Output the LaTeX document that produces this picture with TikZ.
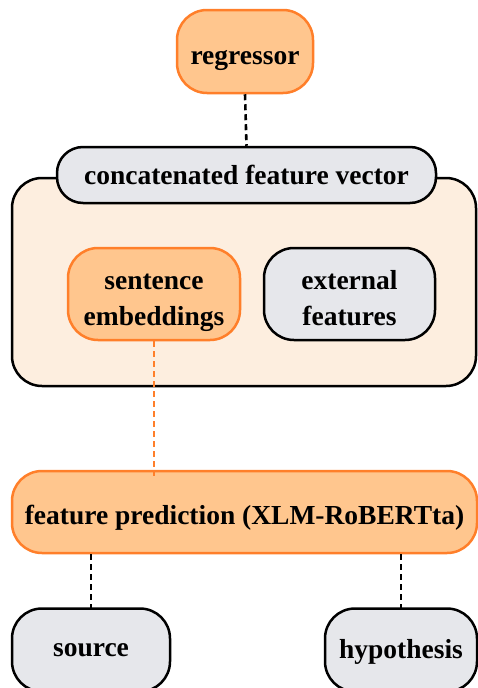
\documentclass[tikz,border=0pt]{standalone}
\usepackage{fontspec}
\setmainfont{Liberation Serif}
\definecolor{orfill}{HTML}{FFC68E}
\definecolor{ordraw}{HTML}{FF7F2A}
\definecolor{gyfill}{HTML}{E6E7EB}
\definecolor{bgfill}{HTML}{FDEEDF}
\newcommand{\lowertext}[2]{\raisebox{-#1}[\height][\depth]{#2}}
\newcommand{\twolines}[2]{\begin{tabular}{@{}c@{}}#1\\#2\end{tabular}}
\begin{document}
\begin{tikzpicture}[x=1pt,y=-1pt,
  box/.style={draw, line width=2.5pt, rounded corners=30pt, align=center,
    font=\fontsize{27.5}{36}\selectfont\bfseries, inner sep=0pt},
  orbox/.style={box, draw=ordraw, fill=orfill},
  gybox/.style={box, draw=black, fill=gyfill},
  conn/.style={line width=2.6pt, dash pattern=on 6pt off 4pt},
]
\useasboundingbox (0,0) rectangle (477,688);
\node[box, draw=black, fill=bgfill, minimum width=464pt, minimum height=208pt] (big) at (244,282) {};
\node[orbox, minimum width=136pt, minimum height=83pt] (reg) at (245,51.5) {\lowertext{9pt}{regressor}};
\node[gybox, minimum width=379pt, minimum height=56pt, rounded corners=26pt] (concat) at (246.5,175) {concatenated feature vector};
\node[orbox, minimum width=172pt, minimum height=92pt] (sent) at (154,294) {\lowertext{6pt}{\twolines{sentence}{embeddings}}};
\node[gybox, minimum width=171pt, minimum height=92pt] (ext) at (349.5,294) {\lowertext{6pt}{\twolines{external}{features}}};
\node[orbox, minimum width=465pt, minimum height=82pt] (feat) at (244.5,512) {\lowertext{6pt}{feature prediction (XLM-RoBERTta)}};
\node[gybox, minimum width=158pt, minimum height=83pt] (src) at (91,650) {source};
\node[gybox, minimum width=152pt, minimum height=83pt] (hyp) at (401,650) {\lowertext{2pt}{hypothesis}};
\draw[conn] (reg.south) -- (concat.north);
\draw[conn, draw=ordraw] (sent.south) -- ([yshift=-6pt]sent.south |- feat.north);
\draw[conn] (src.north |- feat.south) -- ([yshift=-6pt]src.north);
\draw[conn] (hyp.north |- feat.south) -- ([yshift=-6pt]hyp.north);
\end{tikzpicture}
\end{document}
